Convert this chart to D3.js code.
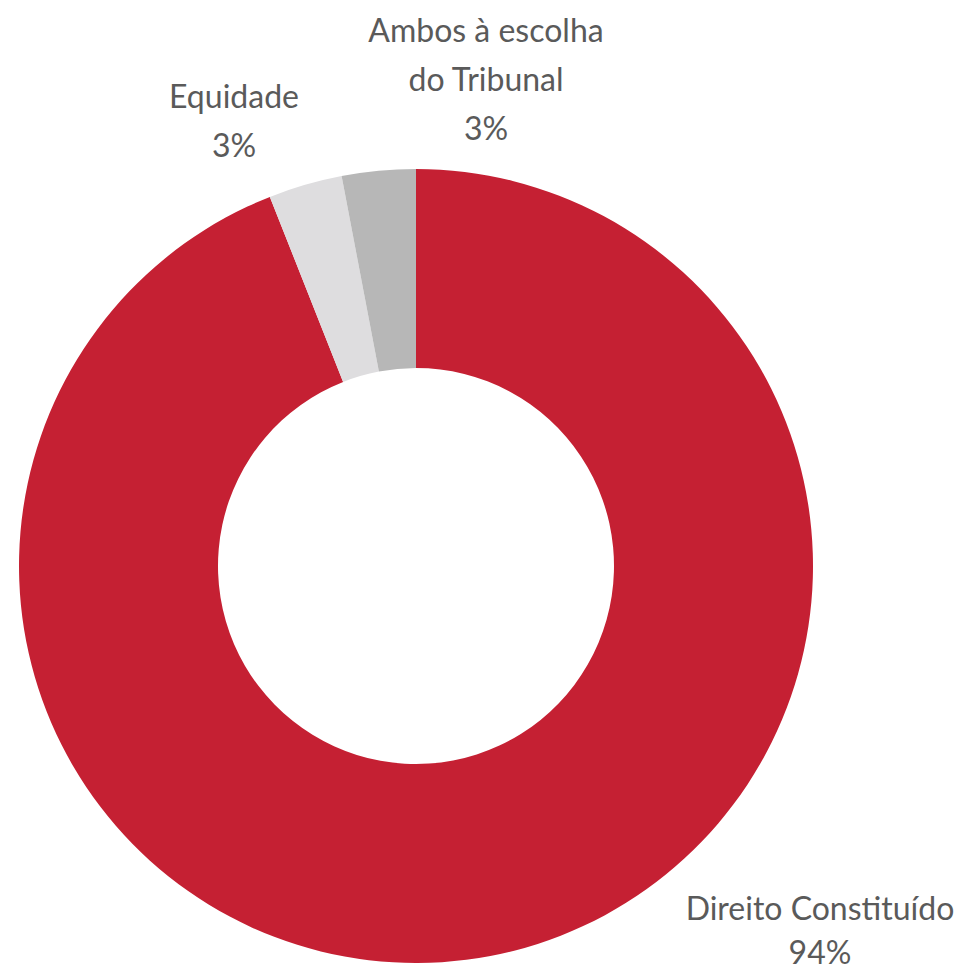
<!DOCTYPE html>
<html><head><meta charset="utf-8">
<script src="https://cdn.jsdelivr.net/npm/d3@7"></script>
<style>body{margin:0;background:#fff}svg{display:block}</style>
</head><body>
<svg id="c" width="959" height="965"></svg>
<script>
const categories = ["Direito Constituído", "Equidade", "Ambos à escolha do Tribunal"];
const values = [94, 3, 3];
const labelLines = [["Direito Constituído", "94%"], ["Equidade", "3%"], ["Ambos à escolha", "do Tribunal", "3%"]];
const colors = ["#c52033", "#dedddf", "#b7b7b7"];

const svg = d3.select("#c");
const cx = 416, cy = 566, rOuter = 397, rInner = 198;
const g = svg.append("g").attr("transform", `translate(${cx},${cy})`);
const pie = d3.pie().sort(null).value(d => d)(values);
const arc = d3.arc().innerRadius(rInner).outerRadius(rOuter);
g.selectAll("path").data(pie).join("path").attr("d", arc).attr("fill", (d, i) => colors[i]);

// label anchors (centre x, first baseline y) relative to centre
const labelPos = [[404, 354], [-182, -458], [70, -524]];
const lineGap = [44, 49, 49];
const fontFam = "Lato, 'Noto Sans', sans-serif";
labelLines.forEach((lines, i) => {
  const t = g.append("text").attr("text-anchor", "middle")
    .attr("font-family", fontFam).attr("font-size", 32).attr("font-weight", 400).attr("fill", "#5a5a5a");
  lines.forEach((s, j) => {
    t.append("tspan").attr("x", labelPos[i][0]).attr("y", labelPos[i][1] + j * lineGap[i]).text(s);
  });
});
</script>
</body></html>
